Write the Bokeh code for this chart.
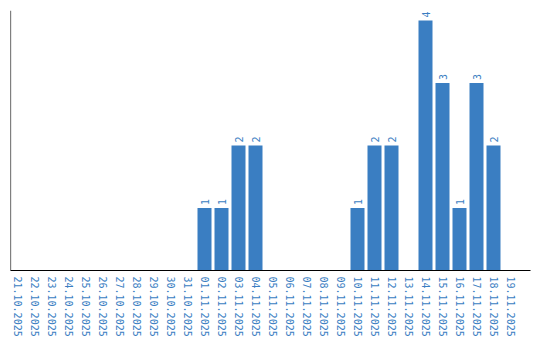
import math
from bokeh.plotting import figure
from bokeh.models import Range1d, FixedTicker, Span, ColumnDataSource
from bokeh.core.properties import value
from bokeh.embed import file_html
from bokeh.resources import INLINE

dates = ["21.10.2025", "22.10.2025", "23.10.2025", "24.10.2025", "25.10.2025",
         "26.10.2025", "27.10.2025", "28.10.2025", "29.10.2025", "30.10.2025",
         "31.10.2025", "01.11.2025", "02.11.2025", "03.11.2025", "04.11.2025",
         "05.11.2025", "06.11.2025", "07.11.2025", "08.11.2025", "09.11.2025",
         "10.11.2025", "11.11.2025", "12.11.2025", "13.11.2025", "14.11.2025",
         "15.11.2025", "16.11.2025", "17.11.2025", "18.11.2025", "19.11.2025"]
counts = [0, 0, 0, 0, 0, 0, 0, 0, 0, 0,
          0, 1, 1, 2, 2, 0, 0, 0, 0, 0,
          1, 2, 2, 0, 4, 3, 1, 3, 2, 0]

BLUE = "#3a7ec2"
FONT = "DejaVu Sans Mono"

xs = list(range(len(dates)))
src = ColumnDataSource(dict(x=xs, top=counts))
lab = ColumnDataSource(dict(
    x=[x for x, c in zip(xs, counts) if c > 0],
    y=[c for c in counts if c > 0],
    t=[str(c) for c in counts if c > 0],
))

p = figure(width=540, height=340, output_backend="svg", toolbar_location=None,
           x_range=Range1d(-7 / 17, 30 + 3 / 17), y_range=Range1d(0, 4.16),
           y_axis_location=None,
           min_border_left=10, min_border_right=10, min_border_top=10,
           min_border_bottom=70)
p.outline_line_color = None
p.grid.visible = False
p.background_fill_color = "white"
p.border_fill_color = "white"

p.vbar(x="x", top="top", bottom=0, width=14 / 17, source=src,
       fill_color=BLUE, line_color=None)
p.text(x="x", y="y", text="t", source=lab, angle=math.pi / 2,
       text_align="left", text_baseline="middle", y_offset=-3,
       text_font=value(FONT), text_font_size="10px", text_color=BLUE)

ax = p.xaxis[0]
ax.ticker = FixedTicker(ticks=xs)
ax.major_label_overrides = {i: d for i, d in enumerate(dates)}
ax.major_label_orientation = "vertical"
ax.major_label_text_font = FONT
ax.major_label_text_font_size = "10px"
ax.major_label_text_color = BLUE
ax.major_tick_line_color = None
ax.minor_tick_line_color = None
ax.major_tick_out = 0
ax.major_tick_in = 0
ax.major_label_standoff = 6
ax.axis_line_color = "black"
ax.axis_line_width = 1.2

p.add_layout(Span(location=-7 / 17, dimension="height", line_color="black",
                  line_width=1.2))

open("out.html", "w").write(file_html(p, INLINE))
